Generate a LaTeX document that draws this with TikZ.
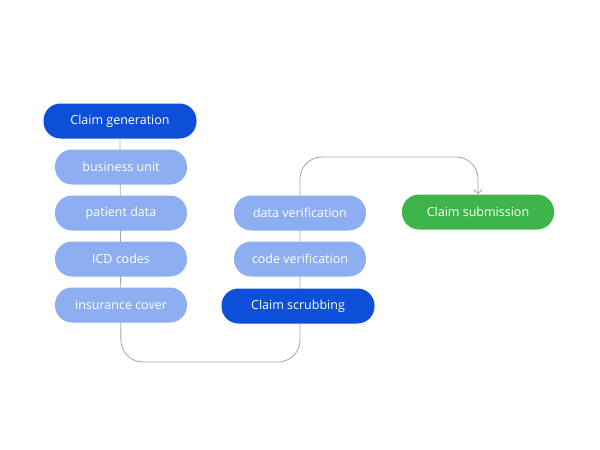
\documentclass[tikz,border=0pt]{standalone}
\usepackage{fontspec}
\usetikzlibrary{arrows.meta}
\setmainfont{Open Sans}
\begin{document}
\begin{tikzpicture}[x=1pt,y=-1pt,
  pill/.style={rounded corners=17pt,minimum height=35pt,text=white,font=\fontsize{12.5}{14}\selectfont,inner sep=0pt},
  dark/.style={pill,fill=blue1,minimum width=153pt},
  light/.style={pill,fill=blue2,minimum width=132pt},
  green/.style={pill,fill=green1,minimum width=152pt},
  link/.style={draw=gray!70,line width=0.8pt,rounded corners=22pt}]
\definecolor{blue1}{HTML}{0D4FD8}
\definecolor{blue2}{HTML}{8DAEF0}
\definecolor{green1}{HTML}{3DB54A}
\useasboundingbox (0,0) rectangle (600,450);
\coordinate (b1) at (121,362);
\coordinate (b2) at (300,362);
\coordinate (t1) at (300,157);
\coordinate (t2) at (478,157);
\node[dark] (gen) at (120,121) {Claim generation};
\node[green] (sub) at (478,212) {Claim submission};
\draw[link,-{Straight Barb[length=4pt]}] (gen.south) -- (b1) -- (b2) -- (t1) -- (t2) -- (sub.north);
\node[light] (bu) at (121,167) {business unit};
\node[light] (pd) at (121,213) {patient data};
\node[light] (icd) at (121,259) {ICD codes};
\node[light] (ins) at (121,305) {insurance cover};
\node[light] (dv) at (300,213) {data verification};
\node[light] (cv) at (300,259) {code verification};
\node[dark] (scr) at (298,306) {Claim scrubbing};
\end{tikzpicture}
\end{document}
